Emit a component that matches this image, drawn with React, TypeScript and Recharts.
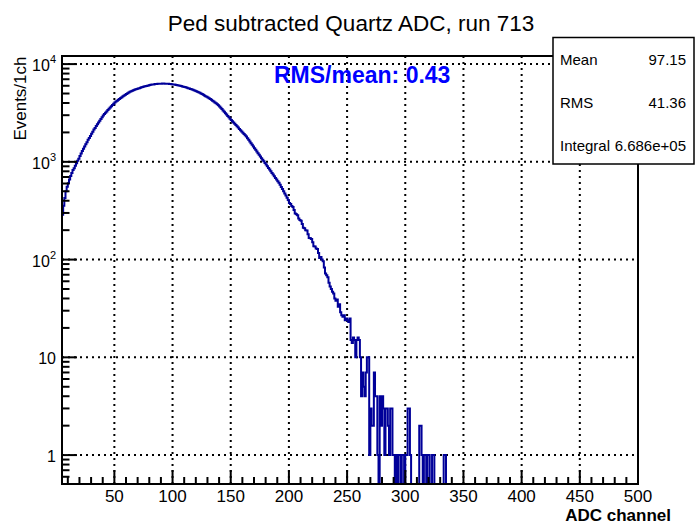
import { CartesianGrid, Line, LineChart, XAxis, YAxis } from "recharts";

const FONT = '"Liberation Sans", Arial, Helvetica, sans-serif';
const LINE_COLOR = "#000099";

const TITLE = "Ped subtracted Quartz ADC, run 713";
const X_TITLE = "ADC channel";
const Y_TITLE = "Events/1ch";
const NOTE = "RMS/mean: 0.43";
const STATS = [
    { label: "Mean", value: "97.15" },
    { label: "RMS", value: "41.36" },
    { label: "Integral", value: "6.686e+05" },
];

const X_DOMAIN = [5, 500];
const Y_MIN = 0.506;
const Y_MAX = 12100;

const X_MAJOR = [50, 100, 150, 200, 250, 300, 350, 400, 450, 500];
const X_MINOR = [
    10, 20, 30, 40, 60, 70, 80, 90, 110, 120, 130, 140, 160, 170, 180, 190,
    210, 220, 230, 240, 260, 270, 280, 290, 310, 320, 330, 340, 360, 370, 380, 390,
    410, 420, 430, 440, 460, 470, 480, 490,
];
const X_GRID = [50, 100, 150, 200, 250, 300, 350, 400, 450];

const Y_MAJOR = [1, 10, 100, 1000, 10000];
const Y_MINOR = [
    0.6, 0.7, 0.8, 0.9,
    2, 3, 4, 5, 6, 7, 8, 9,
    20, 30, 40, 50, 60, 70, 80, 90,
    200, 300, 400, 500, 600, 700, 800, 900,
    2000, 3000, 4000, 5000, 6000, 7000, 8000, 9000,
];

// counts per channel, starting at channel 5
const FIRST_CHANNEL = 5;
const COUNTS = [
    288, 355, 427, 500, 556, 603, 661, 716, 770, 826, // 5
    861, 912, 966, 1023, 1075, 1148, 1216, 1288, 1365, 1439, // 15
    1514, 1585, 1680, 1754, 1841, 1936, 2032, 2138, 2215, 2323, // 25
    2421, 2523, 2630, 2742, 2858, 2979, 3083, 3177, 3281, 3388, // 35
    3491, 3597, 3707, 3819, 3936, 4055, 4140, 4227, 4315, 4406, // 45
    4498, 4592, 4677, 4764, 4853, 4943, 5035, 5129, 5212, 5272, // 55
    5333, 5395, 5458, 5521, 5572, 5623, 5675, 5728, 5781, 5834, // 65
    5888, 5929, 5970, 6012, 6053, 6095, 6138, 6166, 6194, 6223, // 75
    6252, 6266, 6281, 6295, 6310, 6310, 6324, 6324, 6310, 6310, // 85
    6295, 6281, 6266, 6252, 6223, 6194, 6166, 6138, 6109, 6067, // 95
    6026, 5998, 5957, 5916, 5875, 5834, 5781, 5728, 5675, 5623, // 105
    5572, 5521, 5458, 5395, 5333, 5272, 5212, 5152, 5093, 5012, // 115
    4932, 4853, 4775, 4699, 4624, 4550, 4477, 4395, 4315, 4227, // 125
    4140, 4055, 3972, 3890, 3784, 3681, 3573, 3467, 3357, 3251, // 135
    3148, 3048, 2951, 2858, 2767, 2679, 2600, 2523, 2449, 2377, // 145
    2307, 2239, 2173, 2109, 2046, 1986, 1928, 1871, 1816, 1746, // 155
    1679, 1614, 1552, 1493, 1435, 1380, 1327, 1276, 1227, 1180, // 165
    1135, 1091, 1050, 1012, 975, 938, 902, 867, 834, 802, // 175
    771, 741, 713, 685, 659, 634, 610, 582, 553, 526, // 185
    500, 475, 452, 430, 408, 380, 371, 353, 345, 321, // 195
    296, 291, 285, 264, 254, 250, 231, 212, 209, 200, // 205
    198, 182, 166, 165, 162, 150, 137, 136, 130, 128, // 215
    117, 104, 106, 100, 96, 83, 72, 69, 66, 58, // 225
    53, 50, 47, 45, 40, 38, 39, 33, 35, 29, // 235
    27, 26, 27, 24, 25, 24, 23, 25, 15, 14, // 245
    16, 15, 10, 15, 16, 15, 10, 4, 7, 5, // 255
    4, 7, 10, 10, 1, 3, 2, 2, 7, 4, // 265
    4, 1, 0, 4, 2, 4, 3, 1, 3, 3, // 275
    2, 1, 3, 3, 1, 1, 0, 1, 0, 1, // 285
    1, 0, 1, 1, 0, 1, 1, 3, 3, 1, // 295
    0, 0, 0, 0, 0, 0, 0, 2, 2, 1, // 305
    0, 1, 1, 0, 1, 1, 0, 0, 1, 1, // 315
    0, 0, 0, 0, 0, 0, 0, 0, 1, 1, // 325
    0, 0, // 335
];

// empty bins sit on the bottom of the frame, as ROOT draws them
const rows = COUNTS.map((c, i) => ({ x: FIRST_CHANNEL + i, y: c > 0 ? c : Y_MIN }));
rows.push({ x: X_DOMAIN[1], y: Y_MIN });

const X_TICKS = [...X_MINOR, ...X_MAJOR].sort((a, b) => a - b);
const Y_TICKS = [...Y_MINOR, ...Y_MAJOR].sort((a, b) => a - b);

function XTick(props: any) {
    const { x, y, payload } = props;
    const major = X_MAJOR.includes(payload.value);
    return (
        <g>
            <line x1={x} x2={x} y1={y} y2={y - (major ? 14 : 7)} stroke="#000" strokeWidth={2} />
            {major && (
                <text x={x} y={y + 18} textAnchor="middle" fontSize={17} fontFamily={FONT} fill="#000">
                    {payload.value}
                </text>
            )}
        </g>
    );
}

function YTick(props: any) {
    const { x, y, payload } = props;
    const v = payload.value;
    const major = Y_MAJOR.includes(v);
    const exp = Math.round(Math.log10(v));
    return (
        <g>
            <line x1={x} x2={x + (major ? 15 : 7.5)} y1={y} y2={y} stroke="#000" strokeWidth={2} />
            {major && (
                <text x={x - 6} y={y + 7} textAnchor="end" fontSize={16} fontFamily={FONT} fill="#000">
                    {exp < 2 ? (
                        String(v)
                    ) : (
                        <>
                            <tspan>10</tspan>
                            <tspan fontSize={11} dy={-8}>{exp}</tspan>
                        </>
                    )}
                </text>
            )}
        </g>
    );
}

export default function App() {
    return (
        <div style={{ position: "absolute", left: 0, top: 0, width: 695, height: 526, background: "#fff" }}>
            <LineChart width={695} height={526} data={rows} margin={{ top: 56, right: 57, left: 0, bottom: 0 }}>
                <CartesianGrid
                    horizontalValues={Y_MAJOR}
                    verticalValues={X_GRID}
                    stroke="#000"
                    strokeWidth={2}
                    strokeDasharray="2 4"
                />
                <XAxis
                    dataKey="x"
                    type="number"
                    domain={X_DOMAIN}
                    allowDataOverflow
                    ticks={X_TICKS}
                    interval={0}
                    height={42}
                    axisLine={false}
                    tickLine={false}
                    tickSize={0}
                    tickMargin={0}
                    tick={(p: any) => <XTick {...p} />}
                />
                <YAxis
                    type="number"
                    scale="log"
                    domain={[Y_MIN, Y_MAX]}
                    allowDataOverflow
                    ticks={Y_TICKS}
                    interval={0}
                    width={62}
                    axisLine={false}
                    tickLine={false}
                    tickSize={0}
                    tickMargin={0}
                    tick={(p: any) => <YTick {...p} />}
                />
                <Line
                    dataKey="y"
                    type="stepAfter"
                    stroke={LINE_COLOR}
                    strokeWidth={2}
                    dot={false}
                    isAnimationActive={false}
                />
            </LineChart>

            <svg
                width={695}
                height={526}
                style={{ position: "absolute", left: 0, top: 0, pointerEvents: "none" }}
                fontFamily={FONT}
            >
                <rect x={62} y={56} width={576} height={428} fill="none" stroke="#000" strokeWidth={2} />
                <text x={351} y={31} textAnchor="middle" fontSize={22.5} fill="#000">
                    {TITLE}
                </text>
                <text x={274} y={83} fontSize={23} fontWeight="bold" fill="#0000ff">
                    {NOTE}
                </text>
                <rect x={553} y={37.5} width={141} height={126.5} fill="#fff" stroke="#000" strokeWidth={1.5} />
                {STATS.map((s, i) => (
                    <g key={s.label}>
                        <text x={560} y={65 + i * 43} fontSize={15} fill="#000">
                            {s.label}
                        </text>
                        <text x={686} y={65 + i * 43} textAnchor="end" fontSize={15} fill="#000">
                            {s.value}
                        </text>
                    </g>
                ))}
                <text x={671} y={521} textAnchor="end" fontSize={17} fontWeight="bold" fill="#000">
                    {X_TITLE}
                </text>
                <text
                    x={26}
                    y={56.5}
                    transform="rotate(-90 26 56.5)"
                    textAnchor="end"
                    fontSize={17}
                    fill="#000"
                >
                    {Y_TITLE}
                </text>
            </svg>
        </div>
    );
}
